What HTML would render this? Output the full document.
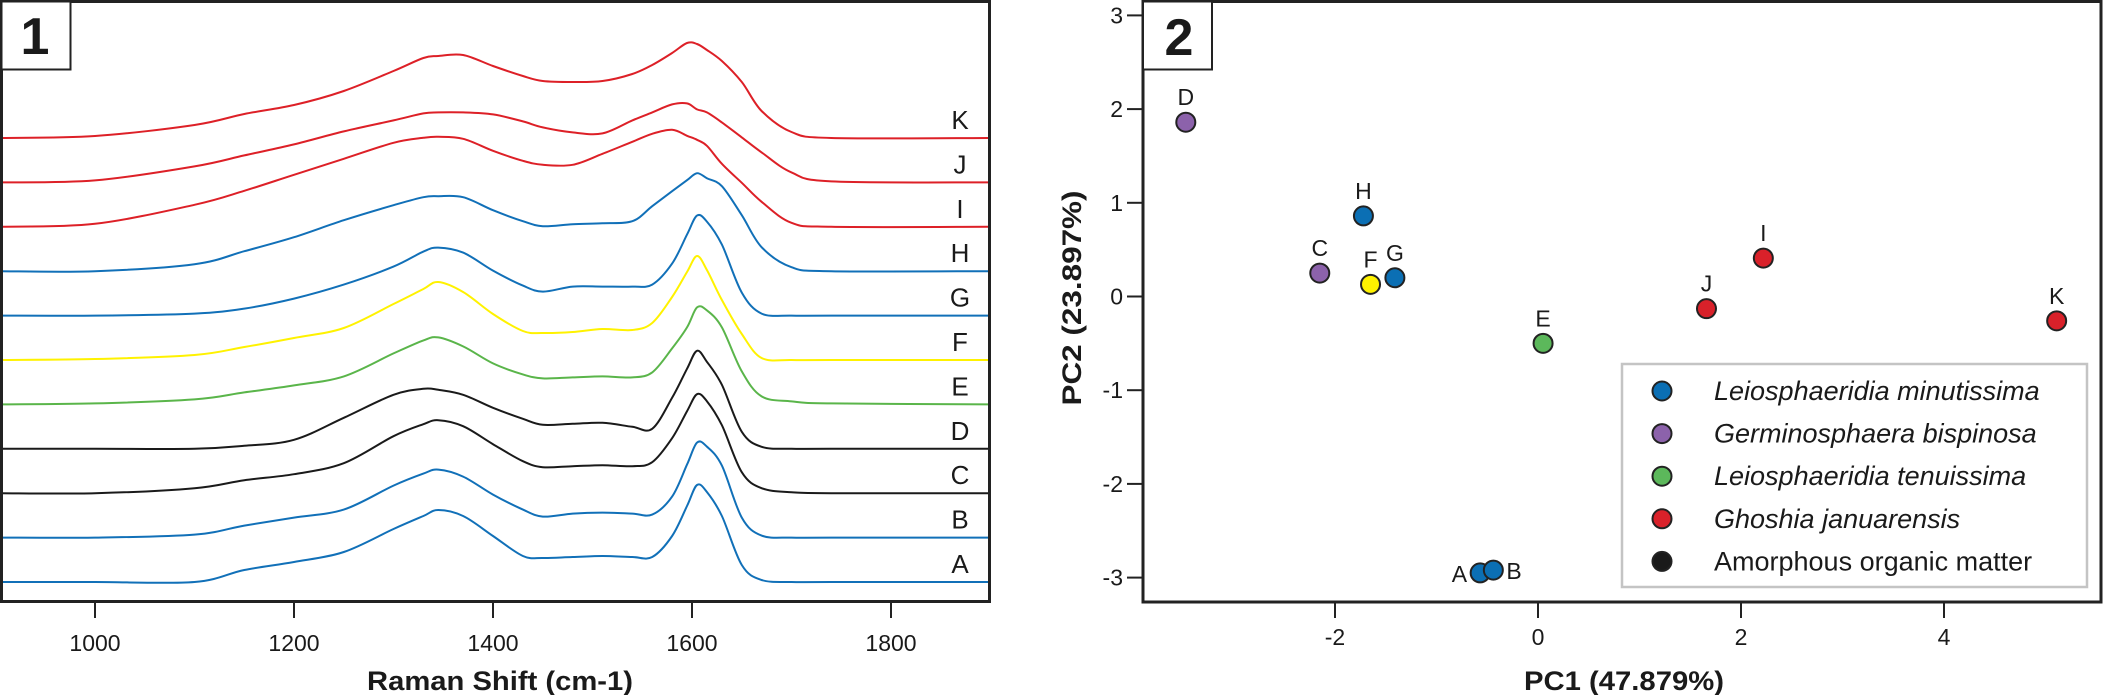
<!DOCTYPE html>
<html><head><meta charset="utf-8"><style>
html,body{margin:0;padding:0;background:#fff}
svg{display:block}
text{font-family:"Liberation Sans",Arial,sans-serif;fill:#1a1a1a}
</style></head><body>
<svg id="fig" width="2103" height="695" viewBox="0 0 2103 695" xmlns="http://www.w3.org/2000/svg">
<g id="p1"></g>
<g id="p2"></g>
</svg>
<script>
// ---------- Panel 1 data ----------
const wavenumbers=[905,1000,1100,1150,1200,1250,1300,1330,1345,1370,1400,1430,1450,1480,1510,1540,1560,1580,1595,1605,1615,1630,1650,1670,1700,1740,1900];
const spectrumLabels=["A","B","C","D","E","F","G","H","I","J","K"];
const spectrumColors=["#1170b8","#1170b8","#1a1a1a","#1a1a1a","#5ab54a","#fff200","#1170b8","#1170b8","#dd2027","#dd2027","#dd2027"];
const specA=[0,0,0,12,20,30,53,66,72,66,46,26,24,25,26,25,25,46,76,97,90,66,17,2,0,0,0];
const specB=[0,0,3,12,20,28,52,64,68,61,43,28,21,24,25,24,23,41,73,95,91,72,20,2,0,0,0];
const specC=[0,0,5,13,19,30,57,69,73,67,49,32,26,27,28,27,31,55,82,99,92,68,21,5,1,0,0];
const specD=[0,0,0,3,9,31,54,60,59,54,41,30,24,25,26,22,20,51,80,98,87,64,17,2,0,0,0];
const specE=[0,1,5,12,19,28,51,64,67,58,41,30,26,27,28,27,32,56,77,97,94,77,33,8,3,1,0];
const specF=[0,1,5,13,22,32,56,71,78,68,46,29,27,28,31,30,37,63,88,104,90,60,26,2,0,0,0];
const specG=[0,0,2,7,17,31,49,64,68,63,45,30,24,29,29,29,31,52,81,100,94,71,23,2,0,0,0];
const specH=[0,0,7,20,34,51,66,74,75,74,61,50,45,47,48,50,65,80,91,98,93,85,56,24,4,0,0];
const specI=[0,3,22,36,52,68,84,89,90,88,76,66,62,62,73,85,93,97,91,87,81,63,44,25,4,0,0];
const specJ=[0,2,16,27,38,51,62,69,70,70,68,61,55,50,49,62,70,78,79,73,70,60,45,30,10,1,0];
const specK=[0,2,13,24,33,47,67,80,82,83,72,62,57,56,57,64,73,85,95,94,88,77,56,27,6,0,0];
const spectra=[specA,specB,specC,specD,specE,specF,specG,specH,specI,specJ,specK];
const ramanTicks=[1000,1200,1400,1600,1800];

// ---------- Panel 2 data ----------
const sampleNames=["A","B","C","D","E","F","G","H","I","J","K"];
const pc1=[-0.57,-0.44,-2.15,-3.47,0.05,-1.65,-1.41,-1.72,2.22,1.66,5.11];
const pc2=[-2.95,-2.92,0.25,1.86,-0.50,0.13,0.20,0.86,0.41,-0.13,-0.26];
const sampleGroup=[0,0,1,1,2,5,0,0,3,3,3];
const groupColors=["#0b6fb4","#8c62ab","#5cb85b","#d9212a","#1a1a1a","#fff200"];
const legendLabels=["Leiosphaeridia minutissima","Germinosphaera bispinosa","Leiosphaeridia tenuissima","Ghoshia januarensis","Amorphous organic matter"];
const pc1Ticks=[-2,0,2,4];
const pc2Ticks=[-3,-2,-1,0,1,2,3];

const NS="http://www.w3.org/2000/svg";
function mk(parent,tag,attrs,txt){const e=document.createElementNS(NS,tag);for(const k in attrs)e.setAttribute(k,attrs[k]);if(txt!==undefined)e.textContent=txt;parent.appendChild(e);return e;}

// ---------- Panel 1 drawing ----------
const p1=document.getElementById('p1');
const X1=v=>95+(v-1000)*0.995;
const BASE=i=>582-i*44.4;
const Y1=(i,val)=>BASE(i)-val;
function smoothPath(pts){
  let d="M"+pts[0][0].toFixed(1)+","+pts[0][1].toFixed(1);
  for(let i=0;i<pts.length-1;i++){
    const p0=pts[i-1]||pts[i],p1_=pts[i],p2=pts[i+1],p3=pts[i+2]||p2;
    const c1x=p1_[0]+(p2[0]-p0[0])/6,c1y=p1_[1]+(p2[1]-p0[1])/6;
    const c2x=p2[0]-(p3[0]-p1_[0])/6,c2y=p2[1]-(p3[1]-p1_[1])/6;
    d+=" C"+c1x.toFixed(1)+","+c1y.toFixed(1)+" "+c2x.toFixed(1)+","+c2y.toFixed(1)+" "+p2[0].toFixed(1)+","+p2[1].toFixed(1);
  }
  return d;
}
const clip=mk(p1,'clipPath',{id:'c1'});mk(clip,'rect',{x:1,y:1,width:988,height:600});
const sg=mk(p1,'g',{'clip-path':'url(#c1)'});
spectra.forEach((s,i)=>{
  const pts=wavenumbers.map((v,j)=>[X1(v),Y1(i,s[j])]);
  const path=mk(sg,'path',{d:smoothPath(pts),fill:'none',stroke:spectrumColors[i],'stroke-width':2});
  
  
  const lab=mk(p1,'text',{x:960,y:BASE(i)-9,'font-size':26,'text-anchor':'middle'},spectrumLabels[i]);
  
  
});
const f1=mk(p1,'rect',{x:1.5,y:1.5,width:988,height:600,fill:'none',stroke:'#222','stroke-width':3});

const b1=mk(p1,'rect',{x:1.5,y:1.5,width:69,height:68,fill:'#fff',stroke:'#222','stroke-width':2});

const t1=mk(p1,'text',{x:35,y:54,'font-size':52,'font-weight':'bold','text-anchor':'middle'},'1');

ramanTicks.forEach(v=>{
  const tk=mk(p1,'line',{x1:X1(v),x2:X1(v),y1:602,y2:618,stroke:'#222','stroke-width':2});
  
  const tl=mk(p1,'text',{x:X1(v),y:651,'font-size':23,'text-anchor':'middle'},String(v));
  
});
const xt1=mk(p1,'text',{x:500,y:690,'font-size':27,'font-weight':'bold','text-anchor':'middle',textLength:266,lengthAdjust:'spacingAndGlyphs'},'Raman Shift (cm-1)');


// ---------- Panel 2 drawing ----------
const p2=document.getElementById('p2');
const X2=v=>1538+v*101.5;
const Y2=v=>296.5-v*93.7;
const f2=mk(p2,'rect',{x:1143,y:1.5,width:958,height:600.5,fill:'none',stroke:'#222','stroke-width':3});

const b2=mk(p2,'rect',{x:1143,y:1.5,width:69,height:68,fill:'#fff',stroke:'#222','stroke-width':2});

const t2=mk(p2,'text',{x:1179,y:55,'font-size':52,'font-weight':'bold','text-anchor':'middle'},'2');

pc2Ticks.forEach(v=>{
  const tk=mk(p2,'line',{x1:1127,x2:1143,y1:Y2(v),y2:Y2(v),stroke:'#222','stroke-width':2});
  
  const tl=mk(p2,'text',{x:1123,y:Y2(v)+8,'font-size':23,'text-anchor':'end'},String(v));
  
});
pc1Ticks.forEach(v=>{
  const tk=mk(p2,'line',{x1:X2(v),x2:X2(v),y1:602,y2:618,stroke:'#222','stroke-width':2});
  
  const tl=mk(p2,'text',{x:X2(v),y:645,'font-size':23,'text-anchor':'middle'},String(v));
  
});
const xt2=mk(p2,'text',{x:1624,y:690,'font-size':27,'font-weight':'bold','text-anchor':'middle',textLength:200,lengthAdjust:'spacingAndGlyphs'},'PC1 (47.879%)');

const yt2=mk(p2,'text',{x:0,y:0,'font-size':27,'font-weight':'bold','text-anchor':'middle',textLength:215,lengthAdjust:'spacingAndGlyphs',transform:'translate(1081,298) rotate(-90)'},'PC2 (23.897%)');


sampleNames.forEach((n,i)=>{
  const cx=X2(pc1[i]),cy=Y2(pc2[i]);
  const c=mk(p2,'circle',{cx:cx,cy:cy,r:9.5,fill:groupColors[sampleGroup[i]],stroke:'#222','stroke-width':2});
  
  
  let lx=cx,ly=cy-17,anchor='middle';
  if(n==='A'){lx=cx-13;ly=cy+9;anchor='end';}
  if(n==='B'){lx=cx+13;ly=cy+9;anchor='start';}
  const t=mk(p2,'text',{x:lx,y:ly,'font-size':23,'text-anchor':anchor},n);
  
  
});
const lg=mk(p2,'g',{});

mk(lg,'rect',{x:1622,y:364,width:465,height:223,fill:'#fff',stroke:'#c4c4c4','stroke-width':2.5});
legendLabels.forEach((l,i)=>{
  const y=391+i*42.6;
  const m=mk(lg,'circle',{cx:1662,cy:y,r:9.5,fill:groupColors[i],stroke:'#222','stroke-width':2});
  
  const attrs={x:1714,y:y+9,'font-size':27};
  if(i<4)attrs['font-style']='italic';
  const t=mk(lg,'text',attrs,l);
  
});
</script>
</body></html>
